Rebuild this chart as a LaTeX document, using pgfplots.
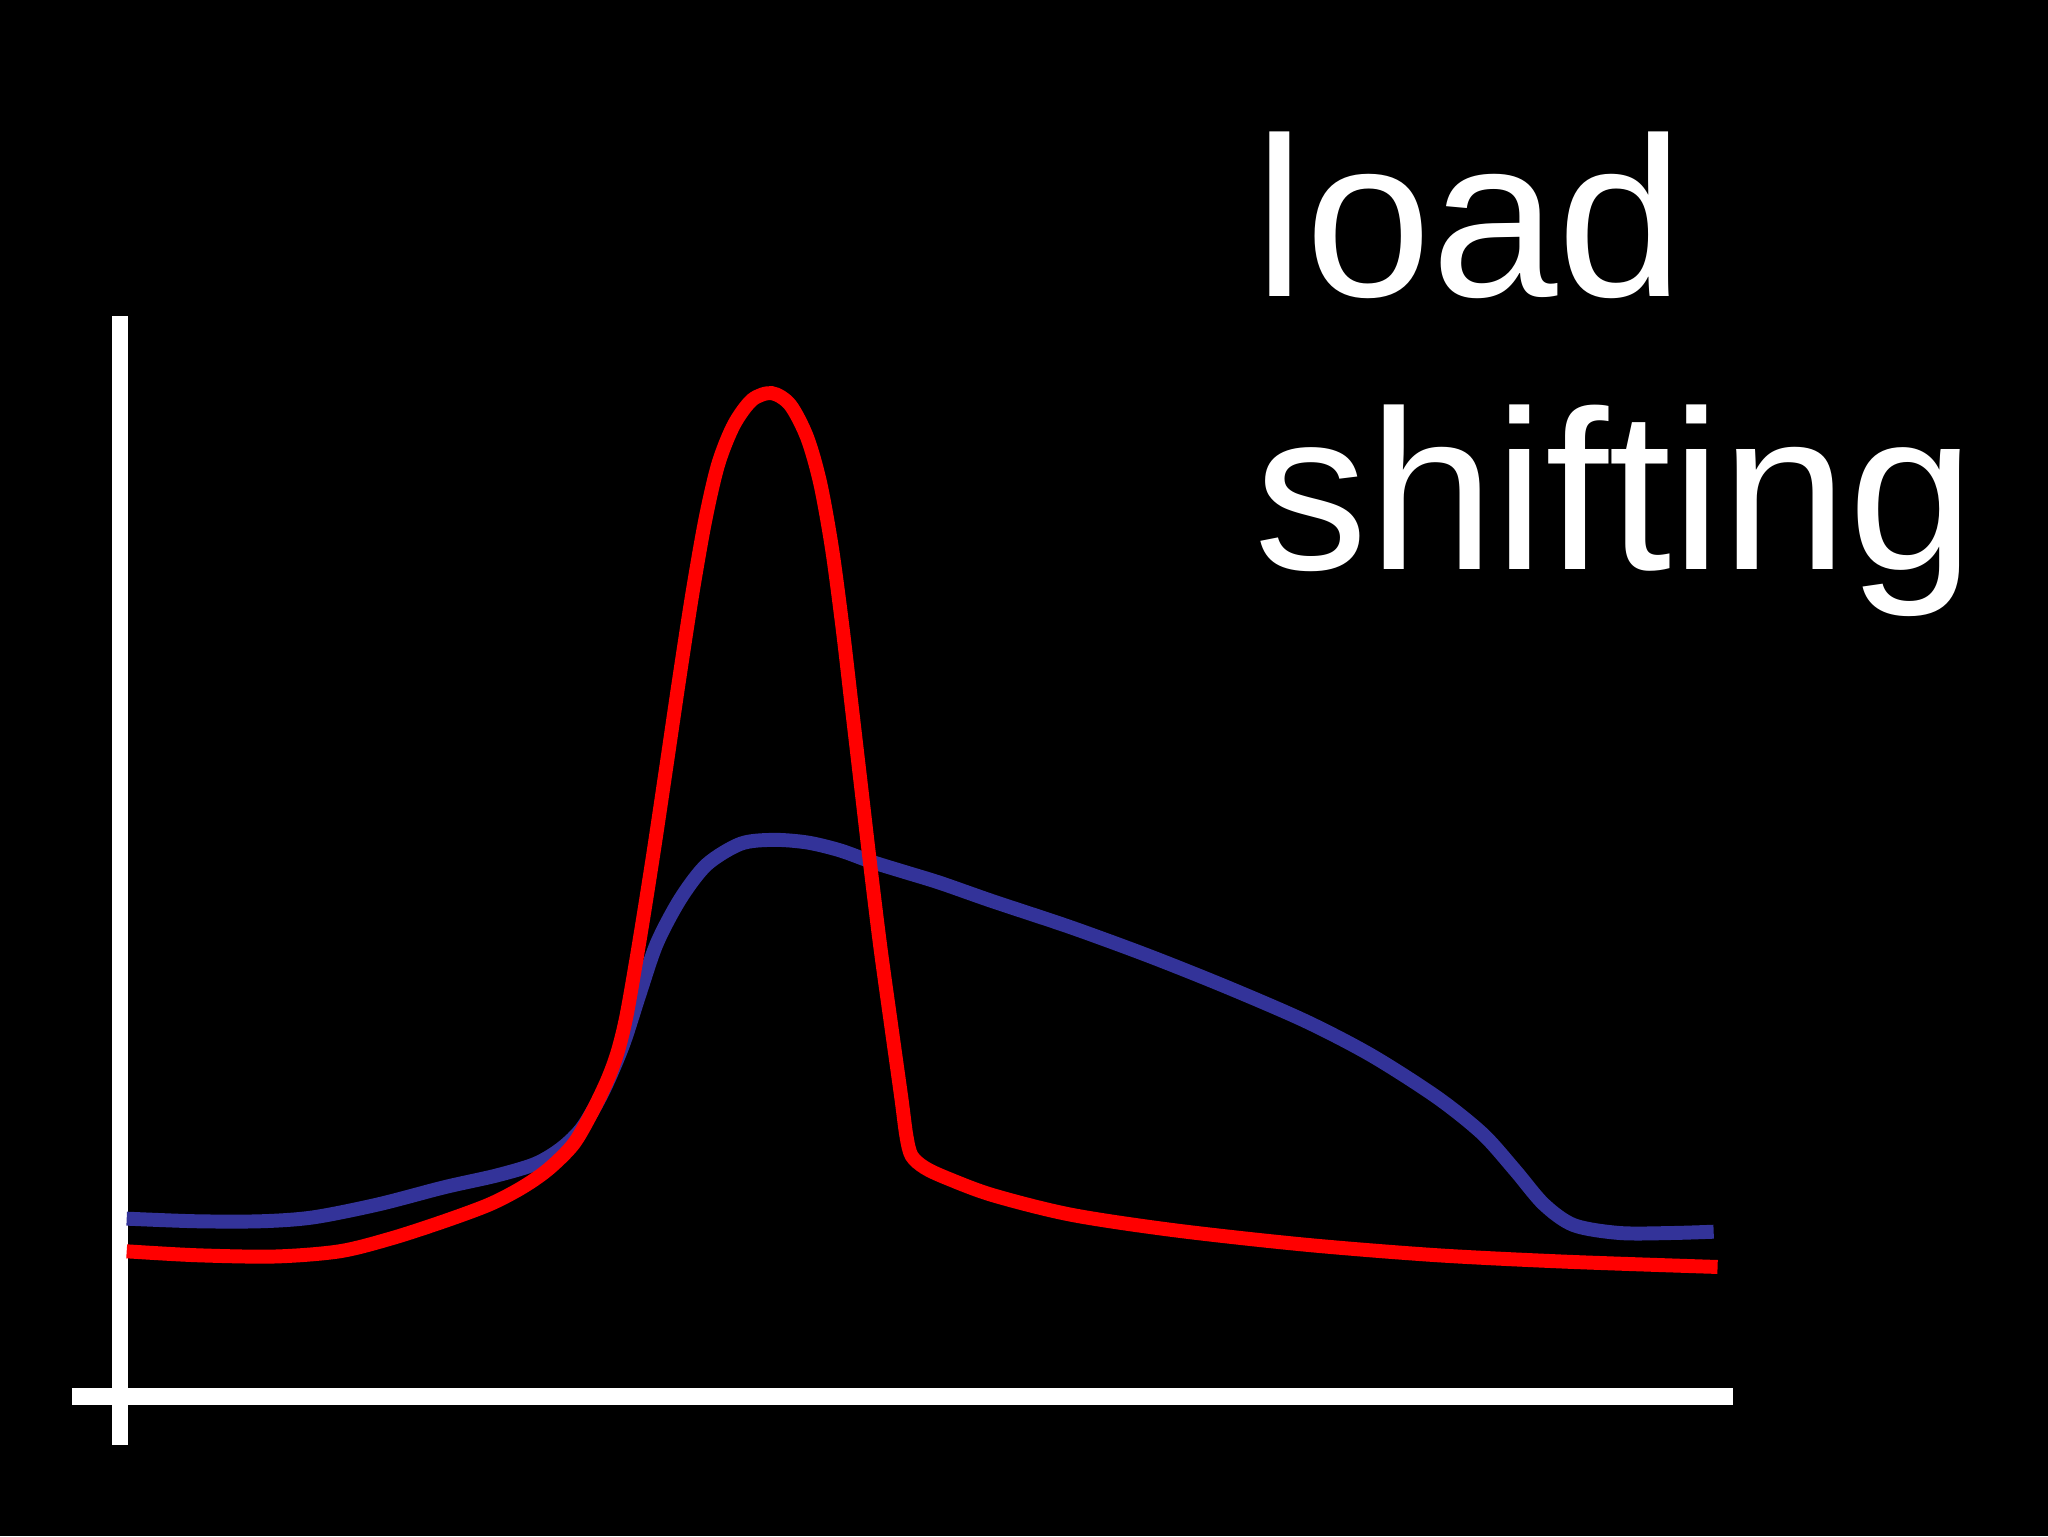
\documentclass[border=0pt]{standalone}
\usepackage{pgfplots}
\pgfplotsset{compat=1.18}
\usepackage{fontspec}
\setmainfont{Liberation Sans}
\definecolor{lsblue}{RGB}{51,51,153}
\definecolor{lsred}{RGB}{255,0,0}
\begin{document}
\begin{tikzpicture}
\fill[black] (0,0) rectangle (16cm,12cm);
\begin{axis}[
  at={(0,0)}, anchor=south west,
  scale only axis, width=16cm, height=12cm,
  xmin=0, xmax=1568, ymin=0, ymax=1176, y dir=reverse,
  hide axis, clip=false,
]
% axes (white)
\addplot[white, line width=3.7pt, line cap=butt] coordinates {(92,242) (92,1106)};
\addplot[white, line width=3.7pt, line cap=butt] coordinates {(55,1069) (1327,1069)};
% blue: original load
\addplot[lsblue, line width=3.1pt, smooth, tension=0.5, line cap=butt] coordinates {
(97,933) (150,935) (200,935) (240,932) (290,922) (340,909) (380,900) (410,891)
(430,879) (446,863) (462,835) (477,800) (490,760) (503,722) (521,688) (541,662)
(567,646) (592,643) (618,645) (643,651) (668,660) (694,668) (720,676) (760,690)
(820,710) (880,732) (940,756) (1000,782) (1050,808) (1100,840) (1135,868)
(1160,896) (1182,922) (1205,938) (1240,944) (1280,944) (1312,943)};
% red: shifted load
\addplot[lsred, line width=3.1pt, smooth, tension=0.5, line cap=butt] coordinates {
(97,958) (150,961) (210,962) (260,958) (300,948) (340,935) (375,922) (400,909)
(420,895) (439,876) (453,852) (465,827) (473,805) (480,776) (490,718) (500,655)
(510,588) (520,520) (530,455) (540,398) (550,355) (562,325) (576,306) (591,301)
(605,310) (618,335) (628,370) (637,420) (645,480) (652,540) (659,600) (666,660)
(674,725) (683,790) (690,840) (694,870) (698,885) (708,894) (725,902) (760,915)
(820,930) (900,942) (1000,953) (1100,961) (1200,966) (1315,970)};
\node[anchor=base west, inner sep=0, text=white, font=\fontsize{50.5}{60.5}\selectfont] at (axis cs:960,227) {load};
\node[anchor=base west, inner sep=0, text=white, font=\fontsize{50.5}{60.5}\selectfont] at (axis cs:960,436) {shifting};
\end{axis}
\end{tikzpicture}
\end{document}
